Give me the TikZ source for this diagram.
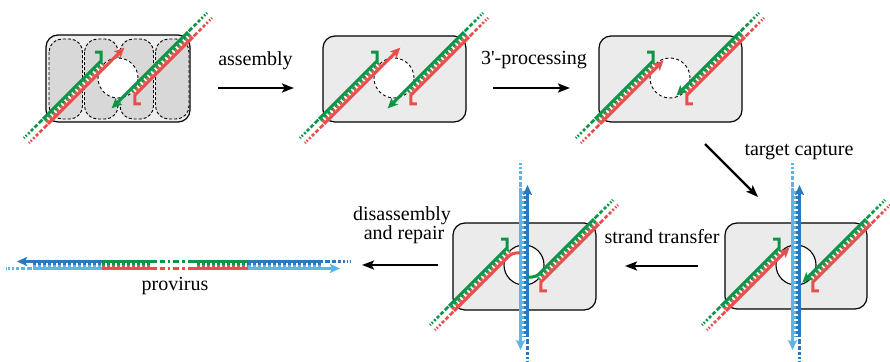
\documentclass[tikz,border=0pt]{standalone}
\usepackage{fontspec}
\setmainfont{Liberation Serif}
\newfontfamily\labelfont{Liberation Serif}
\usetikzlibrary{arrows.meta}

\definecolor{vgreen}{HTML}{0C9447}
\definecolor{vred}{HTML}{E5504B}
\definecolor{tdark}{HTML}{2B78BC}
\definecolor{tlight}{HTML}{5BB5E5}
\definecolor{boxgray}{HTML}{EBEBEB}
\definecolor{boxlight}{HTML}{EEEEEE}
\definecolor{stadgray}{HTML}{D8D8D8}

\tikzset{
  strand/.style={line width=3pt, line cap=butt},
  rung/.style={line width=2pt, dash pattern=on 3pt off 2pt},
  tailpat/.style={line width=2.6pt, dash pattern=on 5pt off 2pt on 4pt off 2pt on 3pt off 2pt on 2pt off 2pt on 1.5pt off 1.5pt on 1pt off 40pt},
  gappat/.style={dash pattern=on 7pt off 3pt on 5pt off 3pt on 2pt off 3pt on 6pt off 3pt on 3pt off 3pt on 9pt off 40pt},
  tipS/.style={-{Stealth[length=10pt,width=9pt,inset=2pt]}},
  cbox/.style={draw=black, line width=1.2pt, fill=boxgray, rounded corners=12pt},
  stad/.style={draw=black, line width=0.9pt, dash pattern=on 3pt off 2pt, fill=stadgray, rounded corners=13pt},
  holeopen/.style={draw=black, line width=0.9pt, dash pattern=on 3pt off 2.5pt, fill=white},
  holeshut/.style={draw=black, line width=1.1pt, fill=white},
  stagearrow/.style={-{Stealth[length=12pt,width=9pt,inset=2.5pt]}, line width=2.2pt},
  lbl/.style={font=\labelfont\fontsize{20}{19}\selectfont, inner sep=0pt, anchor=base},
}

% One LTR end in its own frame: s runs along the duplex, t across it.
\newcommand\ltrcore[2]{%
  \draw[white, line width=4pt] (-82,-20.5) -- (0,-20.5);
  \draw[#1, rung] (-82,-21.5) -- (0,-21.5);
  \draw[#2, rung] (-82,-19.5) -- (0,-19.5);
  \draw[#1, strand, line join=miter] (-82,-24) -- (0,-24) -- (6.36,-30.36) -- (2.12,-34.6);
  \draw[#1, tailpat] (-83,-24) -- (-110,-24);
  \draw[#2, tailpat] (-83,-17) -- (-110,-17);
}
\newcommand\innerfull[1]{\draw[#1, strand, tipS] (-82,-17) -- (26,-17);}
\newcommand\innercut[1]{\draw[#1, strand, tipS] (-82,-17) -- (8,-17);}
\newcommand\innerjoin[1]{\draw[#1, strand, rounded corners=4pt] (-82,-17) -- (0,-17) -- (6,-11);}

% Both LTR ends around a hole centre
\newcommand\ltrpair[2]{%
  \begin{scope}[shift={(#1)}, rotate=45]
    \ltrcore{vgreen}{vred}#2{vred}
  \end{scope}
  \begin{scope}[shift={(#1)}, rotate=225]
    \ltrcore{vred}{vgreen}#2{vgreen}
  \end{scope}
}

% Target DNA running vertically through a hole centre
\newcommand\target[1]{%
  \begin{scope}[shift={(#1)}]
    \draw[white, line width=4pt] (0,-74) -- (0,72);
    \draw[tlight, rung] (-1,-74) -- (-1,72);
    \draw[tdark, rung] (1,-74) -- (1,72);
    \draw[tlight, strand, tipS] (-3.5,-77) -- (-3.5,85);
    \draw[tdark, strand, tipS] (3.5,72) -- (3.5,-80);
    \draw[tlight, tailpat] (-3.5,-78.5) -- (-3.5,-102);
    \draw[tdark, tailpat] (3.5,73.5) -- (3.5,97);
  \end{scope}
}

\begin{document}
\begin{tikzpicture}[x=1pt, y=-1pt]
\useasboundingbox (0,0) rectangle (890,361);

% --- free LTR ends binding the intasome subunits
\draw[cbox, fill=boxlight] (46,35) rectangle (190,122);
\foreach \a in {49,84.5,120,155.5}
  \draw[stad] (\a,39) rectangle ++(33.5,80);
\draw[holeopen] (118,78) circle (20pt);
\ltrpair{118,78}{\innerfull}

% --- assembled complex
\draw[cbox] (323,36) rectangle (466,122);
\draw[holeopen] (394,78) circle (20pt);
\ltrpair{394,78}{\innerfull}

% --- after 3'-processing
\draw[cbox] (599,36) rectangle (742,122);
\draw[holeopen] (670,78) circle (20pt);
\ltrpair{670,78}{\innercut}

% --- target captured
\draw[cbox] (725,223) rectangle (867,309);
\draw[holeshut] (796,265) circle (20pt);
\target{796,265}
\ltrpair{796,265}{\innercut}

% --- strand transfer product
\draw[cbox] (453,223) rectangle (596,310);
\draw[holeshut] (524,265) circle (20pt);
\target{524,265}
\ltrpair{524,265}{\innerjoin}

% --- integrated provirus
\draw[white, line width=4pt] (33,265) -- (323,265);
\draw[tdark, rung] (33,264) -- (102,264);
\draw[tlight, rung] (33,266) -- (102,266);
\draw[vgreen, rung] (102,264) -- (150,264);
\draw[vred, rung] (102,266) -- (150,266);
\draw[vgreen, rung] (197,264) -- (248,264);
\draw[vred, rung] (197,266) -- (248,266);
\draw[tdark, rung] (248,264) -- (323,264);
\draw[tlight, rung] (248,266) -- (323,266);
\draw[white, line width=4pt] (150,265) -- (197,265);
\draw[tdark, strand, tipS] (102,261.5) -- (17,261.5);
\draw[vgreen, strand] (102,261.5) -- (150,261.5);
\draw[vgreen, strand, gappat] (150,261.5) -- (197,261.5);
\draw[vgreen, strand] (197,261.5) -- (248,261.5);
\draw[tdark, strand] (248,261.5) -- (323,261.5);
\draw[tdark, tailpat] (324.5,261.5) -- (350,261.5);
\draw[tlight, tailpat] (31.5,268.5) -- (6,268.5);
\draw[tlight, strand] (33,268.5) -- (102,268.5);
\draw[vred, strand] (102,268.5) -- (150,268.5);
\draw[vred, strand, gappat] (150,268.5) -- (197,268.5);
\draw[vred, strand] (197,268.5) -- (248,268.5);
\draw[tlight, strand, tipS] (248,268.5) -- (340,268.5);

% --- step arrows and labels
\coordinate (a1s) at (218,88);  \coordinate (a1e) at (294,88);
\coordinate (a2s) at (493,88);  \coordinate (a2e) at (570,88);
\coordinate (a3s) at (705,144); \coordinate (a3e) at (758,197);
\coordinate (a4s) at (698,266); \coordinate (a4e) at (625,266);
\coordinate (a5s) at (438,265); \coordinate (a5e) at (362,265);
\draw[stagearrow] (a1s) -- (a1e);
\draw[stagearrow] (a2s) -- (a2e);
\draw[stagearrow] (a3s) -- (a3e);
\draw[stagearrow] (a4s) -- (a4e);
\draw[stagearrow] (a5s) -- (a5e);

\node[lbl] (lassembly) at (255.5,65) {assembly};
\node[lbl] (lprocess) at (534,64) {3'-processing};
\node[lbl] (lcapture) at (799,155) {target capture};
\node[lbl] (ltransfer) at (662,243) {strand transfer};
\node[lbl] (ldisass) at (402,220) {disassembly};
\node[lbl] (lrepair) at (404,239) {and repair};
\node[lbl] (lprovirus) at (175,290) {provirus};
\end{tikzpicture}
\end{document}
